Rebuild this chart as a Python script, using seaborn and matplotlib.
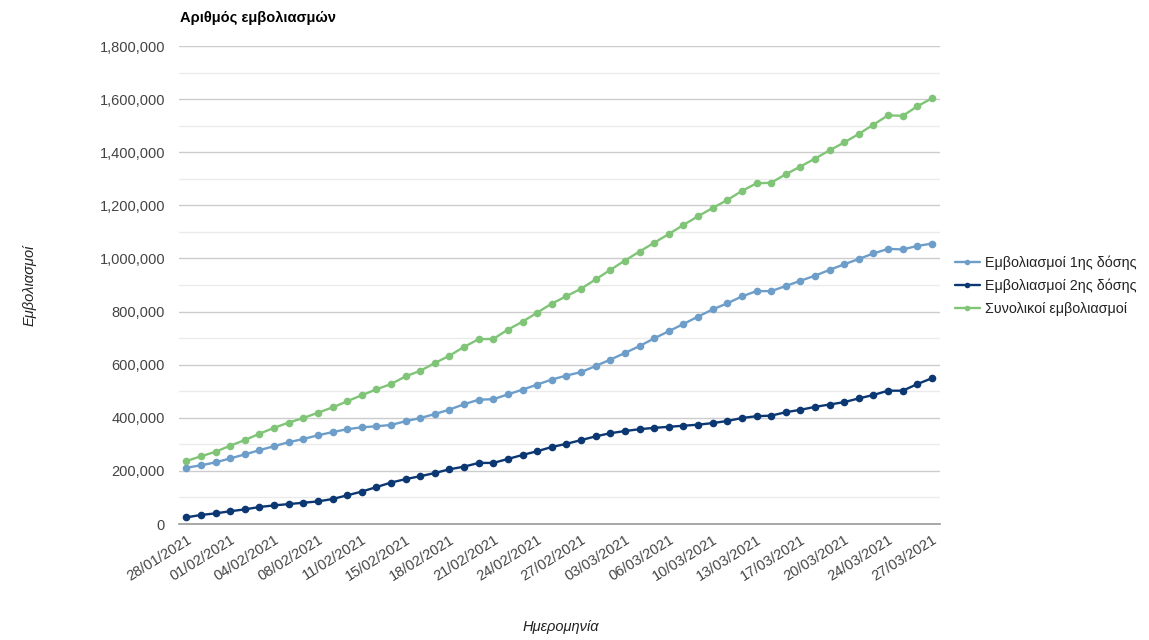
import matplotlib
matplotlib.use("Agg")
import matplotlib.pyplot as plt
import matplotlib.ticker as mticker
import pandas as pd
import seaborn as sns

sns.set_theme(style="white")
plt.rcParams["font.family"] = ["Liberation Sans", "DejaVu Sans"]

# data (dates are categories, one per report)
dates = [
    "28/01/2021", "29/01/2021", "30/01/2021", "01/02/2021", "02/02/2021", "03/02/2021",
    "04/02/2021", "05/02/2021", "06/02/2021", "08/02/2021", "09/02/2021", "10/02/2021",
    "11/02/2021", "12/02/2021", "13/02/2021", "15/02/2021", "16/02/2021", "17/02/2021",
    "18/02/2021", "19/02/2021", "20/02/2021", "21/02/2021", "22/02/2021", "23/02/2021",
    "24/02/2021", "25/02/2021", "26/02/2021", "27/02/2021", "01/03/2021", "02/03/2021",
    "03/03/2021", "04/03/2021", "05/03/2021", "06/03/2021", "08/03/2021", "09/03/2021",
    "10/03/2021", "11/03/2021", "12/03/2021", "13/03/2021", "15/03/2021", "16/03/2021",
    "17/03/2021", "18/03/2021", "19/03/2021", "20/03/2021", "22/03/2021", "23/03/2021",
    "24/03/2021", "25/03/2021", "26/03/2021", "27/03/2021",
]

dose1 = [
    212, 221, 232, 247, 262, 278, 293, 308, 320, 334, 346, 357, 364, 368, 373, 387,
    399, 414, 431, 451, 468, 470, 488, 506, 525, 544, 559, 572, 595, 619, 644, 670,
    699, 726, 753, 781, 808, 831, 857, 877, 877, 896, 916, 935, 957, 978, 998, 1019,
    1036, 1034, 1047, 1056,
]
dose2 = [
    25, 34, 40, 48, 55, 64, 70, 75, 80, 85, 94, 108, 122, 139, 156, 169,
    180, 192, 206, 216, 230, 230, 245, 260, 274, 290, 302, 316, 330, 342, 350, 357,
    362, 366, 370, 374, 380, 388, 399, 406, 408, 421, 430, 441, 450, 459, 473, 486,
    502, 502, 527, 549,
]
total = [
    237, 255, 272, 295, 316, 340, 362, 382, 399, 419, 439, 462, 485, 507, 527, 556,
    577, 606, 634, 667, 696, 697, 732, 762, 796, 830, 858, 886, 921, 957, 992, 1026,
    1059, 1092, 1126, 1159, 1190, 1220, 1254, 1283, 1285, 1317, 1346, 1376, 1407, 1437, 1469, 1504,
    1539, 1537, 1573, 1603,
]

series_names = ["Εμβολιασμοί 1ης δόσης", "Εμβολιασμοί 2ης δόσης", "Συνολικοί εμβολιασμοί"]
colors = ["#6d9eca", "#0b3772", "#80c577"]

df = pd.DataFrame({
    "date": dates * 3,
    "value": [v * 1000 for v in dose1 + dose2 + total],
    "series": [series_names[0]] * len(dates) + [series_names[1]] * len(dates)
    + [series_names[2]] * len(dates),
})
df["pos"] = list(range(len(dates))) * 3

fig = plt.figure(figsize=(11.49, 6.4), dpi=100)
ax = fig.add_axes([179 / 1149, 1 - 524 / 640, (940 - 179) / 1149, (524 - 46) / 640])

sns.lineplot(
    data=df, x="pos", y="value", hue="series", palette=colors,
    marker="o", markersize=5.5, markeredgewidth=0, linewidth=1.7,
    sort=False, ax=ax, legend=False,
)

ax.set_xlim(-0.5, len(dates) - 0.45)
ax.set_ylim(0, 1_800_000)
ax.yaxis.set_major_locator(mticker.MultipleLocator(200_000))
ax.yaxis.set_minor_locator(mticker.MultipleLocator(100_000))
ax.yaxis.set_major_formatter(mticker.FuncFormatter(lambda v, _: f"{v:,.0f}"))
ax.grid(axis="y", which="major", color="#cccccc", linewidth=1)
ax.grid(axis="y", which="minor", color="#ebebeb", linewidth=1)
ax.grid(axis="x", visible=False)
ax.set_axisbelow(True)
for side in ["top", "right", "left"]:
    ax.spines[side].set_visible(False)
ax.spines["bottom"].set_color("#999999")
ax.spines["bottom"].set_linewidth(1.2)

tick_pos = list(range(0, len(dates), 3))
ax.set_xticks(tick_pos)
ax.set_xticklabels([dates[i] for i in tick_pos], rotation=32, ha="right",
                   rotation_mode="anchor")
ax.tick_params(axis="both", which="both", length=0, labelsize=10.5, colors="#444444")
ax.tick_params(axis="y", pad=10)
ax.tick_params(axis="x", pad=6)
ax.set_xlabel("")
ax.set_ylabel("")

fig.text(180 / 1149, 1 - 18 / 640, "Αριθμός εμβολιασμών", fontsize=10.5,
         fontweight="bold", color="#000000", va="center", ha="left")
fig.text(30 / 1149, 1 - 285 / 640, "Εμβολιασμοί", fontsize=10.5, style="italic",
         color="#222222", rotation=90, va="center", ha="center")
fig.text(561 / 1149, 1 - 627 / 640, "Ημερομηνία", fontsize=10.5, style="italic",
         color="#222222", va="center", ha="center")

handles = [
    plt.Line2D([], [], color=c, marker="o", markersize=4, markeredgewidth=0, linewidth=1.7)
    for c in colors
]
fig.legend(handles, series_names, loc="center left",
           bbox_to_anchor=(942 / 1149, 1 - 285.5 / 640), frameon=False,
           fontsize=10.3, handlelength=1.75, handletextpad=0.35, labelspacing=0.6,
           labelcolor="#222222")

fig.savefig("out.png", dpi=100)
